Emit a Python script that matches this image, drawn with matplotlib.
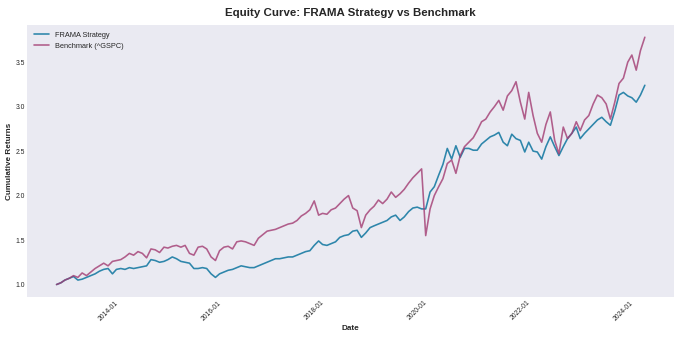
import numpy as np
import pandas as pd
import matplotlib
matplotlib.use("Agg")
import matplotlib.pyplot as plt
import matplotlib.dates as mdates

# monthly values, Jan 2013 .. Jun 2024
dates = pd.date_range("2013-01-01", periods=138, freq="MS")

strategy = [
    1.00, 1.02, 1.05, 1.07, 1.09, 1.05, 1.06, 1.08, 1.10, 1.12, 1.15, 1.17,  # 2013
    1.18, 1.12, 1.17, 1.18, 1.17, 1.19, 1.18, 1.19, 1.20, 1.21, 1.28, 1.27,  # 2014
    1.25, 1.26, 1.28, 1.31, 1.29, 1.26, 1.25, 1.24, 1.18, 1.18, 1.19, 1.18,  # 2015
    1.12, 1.08, 1.12, 1.14, 1.16, 1.17, 1.19, 1.21, 1.20, 1.19, 1.19, 1.21,  # 2016
    1.23, 1.25, 1.27, 1.29, 1.29, 1.30, 1.31, 1.31, 1.33, 1.35, 1.37, 1.38,  # 2017
    1.44, 1.49, 1.45, 1.44, 1.46, 1.48, 1.53, 1.55, 1.56, 1.60, 1.61, 1.53,  # 2018
    1.58, 1.64, 1.66, 1.68, 1.70, 1.72, 1.76, 1.78, 1.72, 1.76, 1.82, 1.86,  # 2019
    1.87, 1.85, 1.85, 2.04, 2.10, 2.23, 2.35, 2.53, 2.41, 2.56, 2.43, 2.53,  # 2020
    2.53, 2.51, 2.51, 2.58, 2.62, 2.66, 2.68, 2.71, 2.60, 2.56, 2.69, 2.64,  # 2021
    2.62, 2.49, 2.60, 2.50, 2.49, 2.41, 2.55, 2.66, 2.55, 2.45, 2.55, 2.64,  # 2022
    2.70, 2.77, 2.64, 2.70, 2.75, 2.80, 2.85, 2.88, 2.83, 2.79, 2.95, 3.13,  # 2023
    3.16, 3.12, 3.10, 3.05, 3.13, 3.24,                                      # 2024
]

benchmark = [
    1.00, 1.02, 1.05, 1.07, 1.10, 1.08, 1.13, 1.10, 1.14, 1.18, 1.21, 1.24,  # 2013
    1.21, 1.26, 1.27, 1.28, 1.31, 1.35, 1.33, 1.37, 1.35, 1.30, 1.40, 1.39,  # 2014
    1.36, 1.42, 1.41, 1.43, 1.44, 1.42, 1.44, 1.35, 1.33, 1.42, 1.43, 1.40,  # 2015
    1.31, 1.27, 1.38, 1.42, 1.43, 1.40, 1.48, 1.49, 1.48, 1.46, 1.44, 1.52,  # 2016
    1.56, 1.60, 1.61, 1.62, 1.64, 1.66, 1.68, 1.69, 1.72, 1.77, 1.80, 1.84,  # 2017
    1.94, 1.78, 1.80, 1.79, 1.84, 1.86, 1.91, 1.96, 2.00, 1.86, 1.83, 1.64,  # 2018
    1.78, 1.84, 1.88, 1.95, 1.91, 1.96, 2.04, 1.98, 2.02, 2.07, 2.14, 2.20,  # 2019
    2.25, 2.30, 1.55, 1.85, 2.00, 2.10, 2.19, 2.36, 2.40, 2.25, 2.45, 2.55,  # 2020
    2.60, 2.65, 2.73, 2.83, 2.86, 2.94, 3.00, 3.07, 2.96, 3.12, 3.18, 3.28,  # 2021
    3.05, 2.86, 3.16, 2.90, 2.70, 2.60, 2.80, 2.94, 2.62, 2.47, 2.77, 2.64,  # 2022
    2.70, 2.83, 2.73, 2.85, 2.90, 3.03, 3.13, 3.10, 3.03, 2.86, 3.05, 3.26,  # 2023
    3.32, 3.50, 3.58, 3.41, 3.63, 3.78,                                      # 2024
]

plt.style.use("seaborn-v0_8-darkgrid")
plt.rcParams["font.family"] = ["Liberation Sans", "DejaVu Sans"]

fig, ax = plt.subplots(figsize=(14, 6.95), dpi=48.5)
ax.plot(dates, strategy, color="#2E86AB", lw=2.4, label="FRAMA Strategy")
ax.plot(dates, benchmark, color="#A23B72", lw=2.4, alpha=0.8, label="Benchmark (^GSPC)")

ax.set_title("Equity Curve: FRAMA Strategy vs Benchmark", fontsize=17, fontweight="bold", pad=14)
ax.set_xlabel("Date", fontsize=12, fontweight="bold")
ax.set_ylabel("Cumulative Returns", fontsize=12, fontweight="bold")
ax.xaxis.set_major_locator(mdates.YearLocator(2))
ax.xaxis.set_major_formatter(mdates.DateFormatter("%Y-%m"))
plt.setp(ax.get_xticklabels(), rotation=45)
ax.tick_params(labelsize=10)
ax.grid(False)
ax.legend(loc="upper left", fontsize=11)

plt.subplots_adjust(left=0.04, right=0.993, top=0.926, bottom=0.119)
plt.savefig("out.png")
